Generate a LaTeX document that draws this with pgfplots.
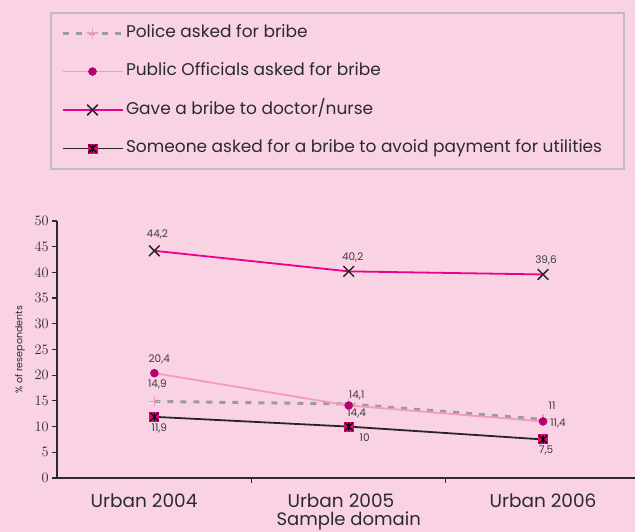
\documentclass[border=0pt]{standalone}
\usepackage{pgfplots}
\pgfplotsset{compat=1.18}
\usepackage{fontspec}
\setmainfont{Poppins}
\definecolor{bgpink}{HTML}{F9D3E4}
\definecolor{legborder}{HTML}{BDBDBD}
\definecolor{magline}{HTML}{EC008C}
\definecolor{lightpink}{HTML}{F49AC1}
\definecolor{darkmag}{HTML}{B5006E}
\definecolor{policegray}{HTML}{9B9B9B}
\definecolor{utilmag}{HTML}{E6007E}
\definecolor{axisdark}{HTML}{2B2B2B}
\definecolor{labelgray}{HTML}{3D3D3D}
\pgfdeclareplotmark{sqast}{%
  \pgfpathrectangle{\pgfqpoint{-\pgfplotmarksize}{-\pgfplotmarksize}}{\pgfqpoint{2\pgfplotmarksize}{2\pgfplotmarksize}}%
  \pgfsetfillcolor{utilmag}\pgfusepathqfill
  \pgfsetstrokecolor{black}%
  \pgfpathmoveto{\pgfqpoint{-.8\pgfplotmarksize}{-.8\pgfplotmarksize}}\pgfpathlineto{\pgfqpoint{.8\pgfplotmarksize}{.8\pgfplotmarksize}}%
  \pgfpathmoveto{\pgfqpoint{-.8\pgfplotmarksize}{.8\pgfplotmarksize}}\pgfpathlineto{\pgfqpoint{.8\pgfplotmarksize}{-.8\pgfplotmarksize}}%
  \pgfpathmoveto{\pgfqpoint{0pt}{-.8\pgfplotmarksize}}\pgfpathlineto{\pgfqpoint{0pt}{.8\pgfplotmarksize}}%
  \pgfusepathqstroke
}
\begin{document}
\begin{tikzpicture}
\useasboundingbox (0,0) rectangle (635pt,532pt);
\fill[bgpink] (0,0) rectangle (635pt,532pt);
\clip (0,0) rectangle (635pt,532pt);
\begin{axis}[
  at={(57.2pt,54pt)}, anchor=south west,
  scale only axis, width=583pt, height=257pt,
  xmin=-0.5, xmax=2.5, ymin=0, ymax=50,
  clip=false,
  axis lines=left, axis line style={-, draw=axisdark, line width=1.4pt},
  tick align=outside, major tick length=5pt,
  tick style={draw=axisdark, line width=1.2pt},
  ytick={0,5,...,50},
  yticklabel style={font=\fontsize{13.5}{15}\selectfont, text=axisdark},
  xtick={-0.053,0.96,2}, xticklabels={Urban 2004, Urban 2005, Urban 2006},
  x tick style={draw=none},
  xticklabel style={font=\fontsize{18.5}{20}\selectfont, text=axisdark, anchor=base, yshift=-25pt},
  extra x ticks={0.5,1.5}, extra x tick labels={},
  extra x tick style={x tick style={draw=axisdark, line width=1.2pt}},
  xlabel={Sample domain},
  ylabel={\% of resepondents},
  every axis x label/.style={at={(axis description cs:0.5,-0.167)}, anchor=center, font=\fontsize{18}{20}\selectfont, text=axisdark},
  every axis y label/.style={at={(axis description cs:-0.064,0.5)}, rotate=90, anchor=center, font=\fontsize{9.5}{11}\selectfont, text=axisdark},
  legend image code/.code={\draw[mark repeat=2,mark phase=2,#1] plot coordinates {(0pt,0pt) (30pt,0pt) (60pt,0pt)};},
  legend style={at={(axis description cs:-0.01235,1.8132)}, anchor=north west,
    draw=legborder, line width=2pt, fill=bgpink,
    font=\fontsize{17}{19}\selectfont, text=axisdark,
    inner xsep=10pt, inner ysep=10pt, row sep=18.5pt,
    nodes={inner sep=2pt, text height=12pt, text depth=4pt}},
  legend cell align=left,
]
\addplot[policegray, line width=3pt, dash pattern=on 6pt off 7pt,
  mark=+, mark size=5.5pt, mark options={solid, draw=lightpink, line width=1.4pt}]
  coordinates {(0,14.9) (1,14.4) (2,11.4)};
\addlegendentry{Police asked for bribe}
\addplot[lightpink, line width=1.8pt,
  mark=*, mark size=4pt, mark options={fill=darkmag, draw=darkmag, line width=0.5pt}]
  coordinates {(0,20.4) (1,14.1) (2,11.0)};
\addlegendentry{Public Officials asked for bribe}
\addplot[magline, line width=1.8pt,
  mark=x, mark size=7.5pt, mark options={draw=black!85, line width=1.5pt}]
  coordinates {(0,44.2) (1,40.2) (2,39.6)};
\addlegendentry{Gave a bribe to doctor/nurse}
\addplot[black!85, line width=1.8pt,
  mark=sqast, mark size=5pt, mark options={line width=1.1pt}]
  coordinates {(0,11.9) (1,10) (2,7.5)};
\addlegendentry{Someone asked for a bribe to avoid payment for utilities\hspace*{10pt}}
\begin{scope}[every node/.style={font=\fontsize{10.5}{12}\selectfont, text=labelgray, anchor=center}]
\node[xshift=3pt,yshift=16pt] at (axis cs:0,44.2) {44,2};
\node[xshift=4pt,yshift=14pt] at (axis cs:1,40.2) {40,2};
\node[xshift=3pt,yshift=14pt] at (axis cs:2,39.6) {39,6};
\node[xshift=5pt,yshift=14pt] at (axis cs:0,20.4) {20,4};
\node[xshift=3pt,yshift=17pt] at (axis cs:0,14.9) {14,9};
\node[xshift=5pt,yshift=-12pt] at (axis cs:0,11.9) {11,9};
\node[xshift=8pt,yshift=10pt] at (axis cs:1,14.1) {14,1};
\node[xshift=8pt,yshift=-9pt] at (axis cs:1,14.4) {14,4};
\node[xshift=16pt,yshift=-11pt] at (axis cs:1,10) {10};
\node[xshift=9pt,yshift=14pt] at (axis cs:2,11.4) {11};
\node[xshift=15pt,yshift=-1.5pt] at (axis cs:2,11.0) {11,4};
\node[xshift=3pt,yshift=-11pt] at (axis cs:2,7.5) {7,5};
\end{scope}
\end{axis}
\end{tikzpicture}
\end{document}
